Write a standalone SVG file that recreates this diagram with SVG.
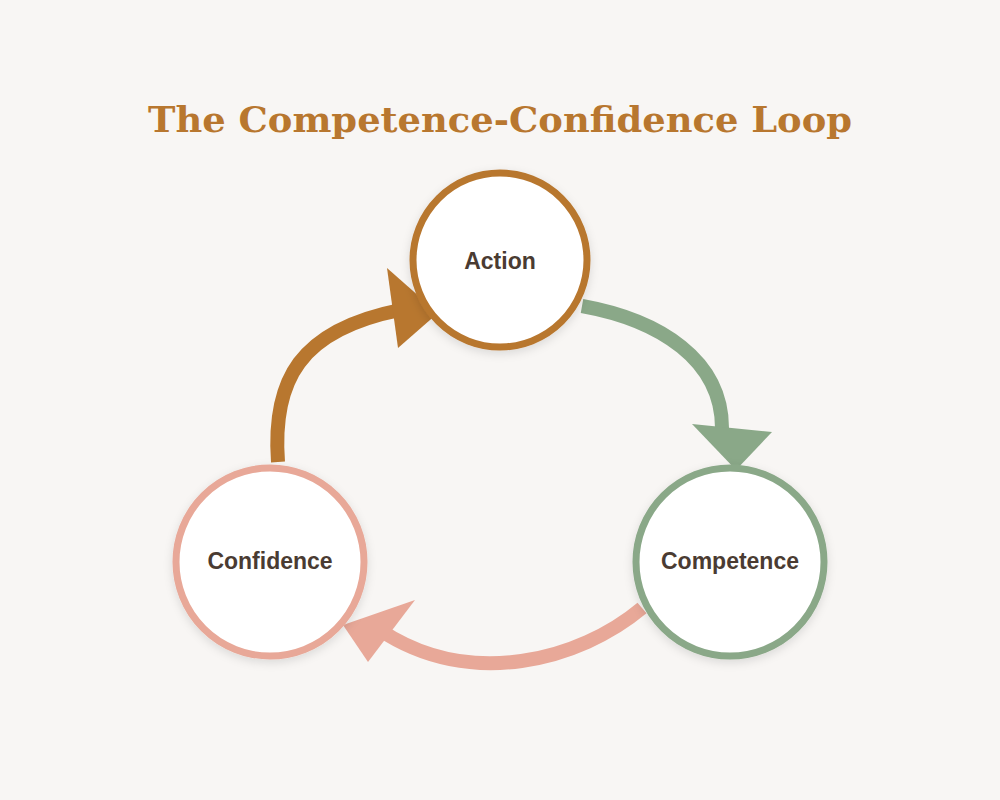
<svg xmlns="http://www.w3.org/2000/svg" width="1000" height="800" viewBox="0 0 1000 800">
<style>
.t{font-family:"Liberation Sans",Arial,sans-serif;font-weight:bold;font-size:23px;fill:#4a3b32;text-anchor:middle;dominant-baseline:middle}
.c{fill:#fff;stroke-width:7}
.e{fill:none;stroke-width:14;stroke-linecap:butt}
</style>
<defs><filter id="sh" x="-20%" y="-20%" width="140%" height="140%"><feDropShadow dx="0" dy="3" stdDeviation="5" flood-color="#000" flood-opacity="0.12"/></filter></defs>
<rect width="1000" height="800" fill="#f8f6f4"/>
<text x="500" y="132" font-family="DejaVu Serif,Georgia,serif" font-weight="bold" font-size="36" fill="#b8772f" text-anchor="middle" textLength="704" lengthAdjust="spacingAndGlyphs">The Competence-Confidence Loop</text>
<g id="connectors">
<path class="e" stroke="#b8772f" d="M278 462 C272 380 300 330 400 310"/>
<polygon fill="#b8772f" points="387,268 398,348 438,313"/>
<path class="e" stroke="#8aa888" d="M582 306 C660 320 722 360 722 428"/>
<polygon fill="#8aa888" points="692,424 772,432 736,470"/>
<path class="e" stroke="#e8a898" d="M642 608 C580 660 470 690 380 630"/>
<polygon fill="#e8a898" points="415,600 368,662 343,625"/>
</g>
<g id="action"><circle class="c" cx="500" cy="260" r="87" stroke="#b8772f" filter="url(#sh)"/><text class="t" x="500" y="263" font-size="25">Action</text></g>
<g id="confidence"><circle class="c" cx="270" cy="562" r="94" stroke="#e8a898" filter="url(#sh)"/><text class="t" x="270" y="563">Confidence</text></g>
<g id="competence"><circle class="c" cx="730" cy="562" r="94" stroke="#8aa888" filter="url(#sh)"/><text class="t" x="730" y="563">Competence</text></g>
</svg>
